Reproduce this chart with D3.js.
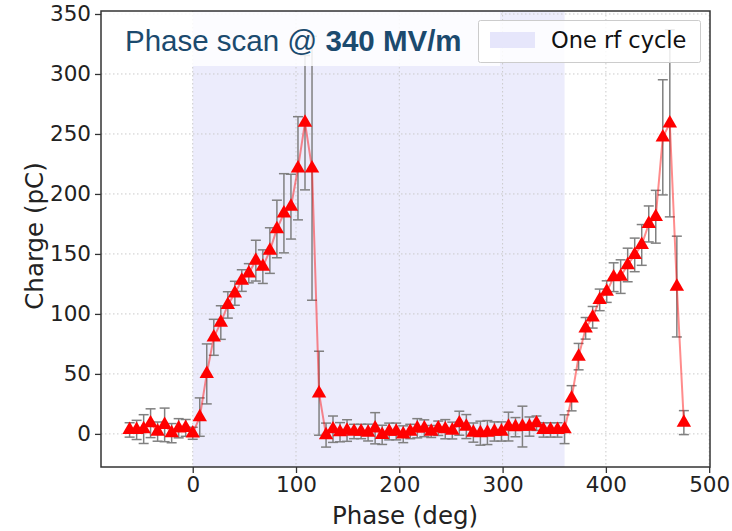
<!DOCTYPE html>
<html>
<head>
<meta charset="utf-8">
<script src="https://cdn.jsdelivr.net/npm/d3@7"></script>
<style>
  html, body { margin: 0; padding: 0; background: #fff; }
  svg { display: block; }
</style>
</head>
<body>
<svg id="chart" width="732" height="531"></svg>
<script>
// Scan phase (deg), one point per step
const phase = [
  -61.1, -54.3, -47.5, -40.8, -34.0, -27.2, -20.4, -13.6, -6.8, 0.0,
  6.8, 13.6, 20.4, 27.2, 34.0, 40.8, 47.5, 54.3, 61.1, 67.9,
  74.7, 81.5, 88.3, 95.1, 101.9, 108.7, 115.5, 122.3, 129.1, 135.8,
  142.6, 149.4, 156.2, 163.0, 169.8, 176.6, 183.4, 190.2, 197.0, 203.8,
  210.6, 217.4, 224.2, 230.9, 237.7, 244.5, 251.3, 258.1, 264.9, 271.7,
  278.5, 285.3, 292.1, 298.9, 305.7, 312.5, 319.2, 326.0, 332.8, 339.6,
  346.4, 353.2, 360.0, 366.8, 373.6, 380.4, 387.2, 394.0, 400.8, 407.5,
  414.3, 421.1, 427.9, 434.7, 441.5, 448.3, 455.1, 461.9, 468.7, 475.5
];

// Measured bunch charge (pC)
const charge = [
  3.3, 3.3, 4.0, 8.9, 1.9, 7.5, 0.6, 4.7, 5.0, 0.5,
  14.0, 50.0, 80.5, 92.8, 107.5, 117.2, 127.8, 133.9, 144.4, 139.4,
  152.8, 170.8, 183.9, 189.4, 221.4, 259.4, 221.4, 33.9, -1.0, 3.9,
  1.4, 2.8, 2.0, 2.0, 1.1, 4.7, -0.8, 2.0, 2.0, -0.3,
  2.0, 4.7, 4.7, 2.0, 4.7, 3.9, 2.8, 8.9, 6.1, 1.1,
  0.6, 1.1, 2.0, 2.0, 6.1, 5.6, 6.1, 6.1, 8.9, 3.3,
  3.3, 3.3, 3.9, 29.7, 64.4, 88.0, 97.2, 111.7, 118.6, 130.6,
  131.1, 140.8, 149.2, 157.5, 175.0, 181.0, 247.2, 258.9, 122.8, 9.4
];

// Standard deviation of the charge (pC)
const chargeErr = [
  6, 8, 12, 12, 8, 14, 8, 8, 7, 5,
  16, 25, 15, 14, 11, 10, 9, 8, 17, 14,
  19, 24, 33, 27, 43, 56, 110, 35, 10, 11,
  8, 9, 6, 6, 7, 13, 8, 7, 7, 7,
  6, 8, 7, 5, 6, 8, 7, 10, 10, 8,
  10, 10, 8, 8, 12, 8, 17, 8, 6, 6,
  6, 6, 12, 10.5, 11, 9, 9, 9, 9, 12,
  14, 14, 14, 17, 15, 22, 48, 78, 42, 10
];

const xTicks = [0, 100, 200, 300, 400, 500];
const yTicks = [0, 50, 100, 150, 200, 250, 300, 350];
const rfCycle = [0, 360];
const legendLabel = "One rf cycle";
const titleRegular = "Phase scan @ ";
const titleBold = "340 MV/m";
const xLabel = "Phase (deg)";
const yLabel = "Charge (pC)";

const svg = d3.select("#chart");
const plot = { left: 101, right: 710, top: 11, bottom: 467 };

const x = d3.scaleLinear().domain([-88.8, 500.8]).range([plot.left, plot.right]);
const y = d3.scaleLinear().domain([-27.6, 352.5]).range([plot.bottom, plot.top]);

const tickFont = "'DejaVu Sans', sans-serif";

// shaded rf cycle
svg.append("rect")
  .attr("x", x(rfCycle[0])).attr("y", plot.top)
  .attr("width", x(rfCycle[1]) - x(rfCycle[0]))
  .attr("height", plot.bottom - plot.top)
  .attr("fill", "#ececfc");

// grid
const grid = svg.append("g").attr("stroke", "#cacaca").attr("stroke-width", 1)
  .attr("stroke-dasharray", "1.5,2.5");
grid.selectAll("line.v").data(xTicks).join("line")
  .attr("x1", d => x(d)).attr("x2", d => x(d))
  .attr("y1", plot.top).attr("y2", plot.bottom);
grid.selectAll("line.h").data(yTicks).join("line")
  .attr("y1", d => y(d)).attr("y2", d => y(d))
  .attr("x1", plot.left).attr("x2", plot.right);

const data = phase.map((p, i) => ({ p, q: charge[i], e: chargeErr[i] }));

// error bars
const eb = svg.append("g").attr("stroke", "#808080").attr("stroke-width", 1.5).attr("fill", "none");
const capW = 5;
data.forEach(d => {
  const cx = x(d.p);
  eb.append("line").attr("x1", cx).attr("x2", cx).attr("y1", y(d.q - d.e)).attr("y2", y(d.q + d.e));
  eb.append("line").attr("x1", cx - capW).attr("x2", cx + capW).attr("y1", y(d.q - d.e)).attr("y2", y(d.q - d.e));
  eb.append("line").attr("x1", cx - capW).attr("x2", cx + capW).attr("y1", y(d.q + d.e)).attr("y2", y(d.q + d.e));
});

// connecting line
svg.append("path").datum(data)
  .attr("fill", "none").attr("stroke", "#ff0000").attr("stroke-opacity", 0.45).attr("stroke-width", 2)
  .attr("d", d3.line().x(d => x(d.p)).y(d => y(d.q)));

// triangle markers
const tri = d3.symbol().type(d3.symbolTriangle).size(90);
svg.append("g").selectAll("path").data(data).join("path")
  .attr("d", tri)
  .attr("transform", d => `translate(${x(d.p)},${y(d.q)})`)
  .attr("fill", "#ff0000");

// title box
svg.append("rect").attr("x", 102).attr("y", 12).attr("width", 398).attr("height", 54)
  .attr("fill", "#ffffff").attr("fill-opacity", 0.85);

const title = svg.append("text").attr("x", 125).attr("y", 51)
  .attr("font-family", "'Liberation Sans', Arial, sans-serif").attr("font-size", 29.5)
  .attr("fill", "#1b4a6e");
title.append("tspan").text(titleRegular);
title.append("tspan").attr("font-weight", "bold").text(titleBold);

// legend
const lg = svg.append("g");
lg.append("rect").attr("x", 478.5).attr("y", 20.5).attr("width", 222).attr("height", 42).attr("rx", 2)
  .attr("fill", "#ffffff").attr("fill-opacity", 0.85).attr("stroke", "#cccccc");
lg.append("rect").attr("x", 490).attr("y", 32).attr("width", 45).attr("height", 16).attr("fill", "#e6e6fb");
lg.append("text").attr("x", 551).attr("y", 48).attr("font-family", tickFont).attr("font-size", 22.5)
  .attr("fill", "#111").text(legendLabel);

// axes frame
svg.append("rect").attr("x", plot.left).attr("y", plot.top)
  .attr("width", plot.right - plot.left).attr("height", plot.bottom - plot.top)
  .attr("fill", "none").attr("stroke", "#333").attr("stroke-width", 1.5);

const xAxis = svg.append("g").attr("transform", `translate(0,${plot.bottom})`)
  .call(d3.axisBottom(x).tickValues(xTicks).tickSize(6).tickPadding(4));
const yAxis = svg.append("g").attr("transform", `translate(${plot.left},0)`)
  .call(d3.axisLeft(y).tickValues(yTicks).tickSize(6).tickPadding(4));
[xAxis, yAxis].forEach(a => {
  a.select(".domain").remove();
  a.selectAll(".tick line").attr("stroke", "#333").attr("stroke-width", 1.3);
  a.selectAll(".tick text").attr("font-family", tickFont).attr("font-size", 21.5).attr("fill", "#222");
});

svg.append("text").attr("x", 405).attr("y", 524).attr("text-anchor", "middle")
  .attr("font-family", tickFont).attr("font-size", 24.5).attr("fill", "#222").text(xLabel);
svg.append("text").attr("transform", "translate(43,236) rotate(-90)").attr("text-anchor", "middle")
  .attr("font-family", tickFont).attr("font-size", 24.5).attr("fill", "#222").text(yLabel);
</script>
</body>
</html>
